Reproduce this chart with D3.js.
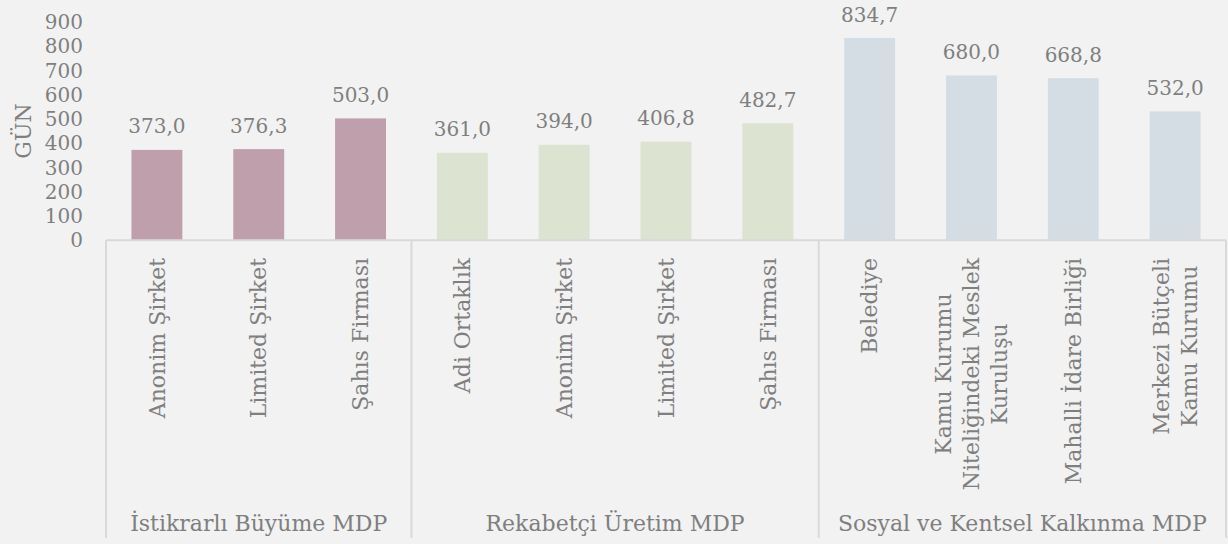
<!DOCTYPE html>
<html>
<head>
  <title>D3</title>
  <meta charset='utf-8'>
  <style>
    html, body { margin: 0; padding: 0; background: #f2f2f2; }
    svg { display: block; }
    text { font-family: "DejaVu Serif", serif; fill: #7f7f7f; }
  </style>
</head>
<body>
  <div id="chart"></div>

  <script src="https://cdn.jsdelivr.net/npm/d3@7"></script>

  <script type="text/javascript">
    // data
    var groups = ["İstikrarlı Büyüme MDP", "Rekabetçi Üretim MDP", "Sosyal ve Kentsel Kalkınma MDP"];
    var categories = ["Anonim Şirket", "Limited Şirket", "Şahıs Firması",
                      "Adi Ortaklık", "Anonim Şirket", "Limited Şirket", "Şahıs Firması",
                      "Belediye", "Kamu Kurumu\nNiteliğindeki Meslek\nKuruluşu",
                      "Mahalli İdare Birliği", "Merkezi Bütçeli\nKamu Kurumu"];
    var groupOf = [0, 0, 0, 1, 1, 1, 1, 2, 2, 2, 2];
    var values = [373.0, 376.3, 503.0, 361.0, 394.0, 406.8, 482.7, 834.7, 680.0, 668.8, 532.0];
    var yTicks = [0, 100, 200, 300, 400, 500, 600, 700, 800, 900];
    var yTitle = "GÜN";

    var colors = ["#bf9fab", "#dce3d1", "#d5dde4"];
    var lineColor = "#d9d9d9";

    var width = 1228,
        height = 544;

    // plot box (top is a reserved window name, hence plotTop)
    var plotLeft = 106, plotRight = 1226, plotBase = 240.3, plotTop = 22.2;
    var catTop = 258, axisBottom = 538, groupBaseline = 531;

    var tr = d3.formatLocale({decimal: ",", thousands: ".", grouping: [3], currency: ["", ""]});
    var fmt = tr.format(".1f");

    var svg = d3.select("#chart")
                .append("svg")
                .attr("width", width)
                .attr("height", height);

    var x = d3.scaleBand()
              .domain(d3.range(values.length))
              .range([plotLeft, plotRight])
              .paddingInner(0.5)
              .paddingOuter(0.25);

    var y = d3.scaleLinear()
              .domain([0, 900])
              .range([plotBase, plotTop]);

    // y axis labels only
    var yAxis = svg.append("g")
        .attr("transform", "translate(83,0)")
        .call(d3.axisLeft(y).tickValues(yTicks).tickSize(0).tickPadding(0).tickFormat(d3.format("d")));
    yAxis.select(".domain").remove();
    yAxis.selectAll("text")
        .style("font-family", "DejaVu Serif")
        .style("font-size", "20px")
        .attr("fill", "#7f7f7f");

    svg.append("text")
        .attr("transform", "translate(23,131) rotate(-90)")
        .attr("text-anchor", "middle")
        .attr("dy", "0.35em")
        .style("font-size", "22px")
        .text(yTitle);

    // bars
    svg.selectAll(".bar")
        .data(values)
        .enter()
        .append("rect")
        .attr("class", "bar")
        .attr("x", function(d, i) { return x(i); })
        .attr("y", function(d) { return y(d); })
        .attr("width", x.bandwidth())
        .attr("height", function(d) { return y(0) - y(d); })
        .attr("fill", function(d, i) { return colors[groupOf[i]]; });

    // value labels
    svg.selectAll(".val")
        .data(values)
        .enter()
        .append("text")
        .attr("class", "val")
        .attr("x", function(d, i) { return x(i) + x.bandwidth() / 2; })
        .attr("y", function(d) { return y(d) - 16.5; })
        .attr("text-anchor", "middle")
        .style("font-size", "20px")
        .text(function(d) { return fmt(d); });

    // category axis lines
    svg.append("line")
        .attr("x1", plotLeft).attr("x2", plotRight)
        .attr("y1", plotBase).attr("y2", plotBase)
        .style("stroke", lineColor).style("stroke-width", "2px");

    var step = x.step();
    var bounds = [0];
    groupOf.forEach(function(g, i) { if (i > 0 && g !== groupOf[i - 1]) bounds.push(i); });
    bounds.push(values.length);

    svg.selectAll(".sep")
        .data(bounds)
        .enter()
        .append("line")
        .attr("x1", function(d) { return plotLeft + d * step; })
        .attr("x2", function(d) { return plotLeft + d * step; })
        .attr("y1", plotBase)
        .attr("y2", axisBottom)
        .style("stroke", lineColor)
        .style("stroke-width", "2px");

    // category labels, rotated, block top-aligned, lines centered
    var lineGap = 28;
    categories.forEach(function(c, i) {
      var lines = c.split("\n");
      var cx = x(i) + x.bandwidth() / 2;
      var g = svg.append("g");
      var texts = lines.map(function(t) {
        return g.append("text")
                .attr("text-anchor", "middle")
                .style("font-size", "22px")
                .text(t);
      });
      var w = d3.max(texts, function(t) { return t.node().getComputedTextLength(); });
      var cy = catTop + w / 2;
      texts.forEach(function(t, k) {
        var off = (k - (lines.length - 1) / 2) * lineGap;
        t.attr("transform", "translate(" + (cx + off) + "," + cy + ") rotate(-90)")
         .attr("dy", "0.35em");
      });
    });

    // group labels
    svg.selectAll(".grp")
        .data(groups)
        .enter()
        .append("text")
        .attr("class", "grp")
        .attr("x", function(d, i) { return plotLeft + (bounds[i] + bounds[i + 1]) / 2 * step; })
        .attr("y", groupBaseline)
        .attr("text-anchor", "middle")
        .style("font-size", "22px")
        .text(function(d) { return d; });
  </script>
</body>
</html>
